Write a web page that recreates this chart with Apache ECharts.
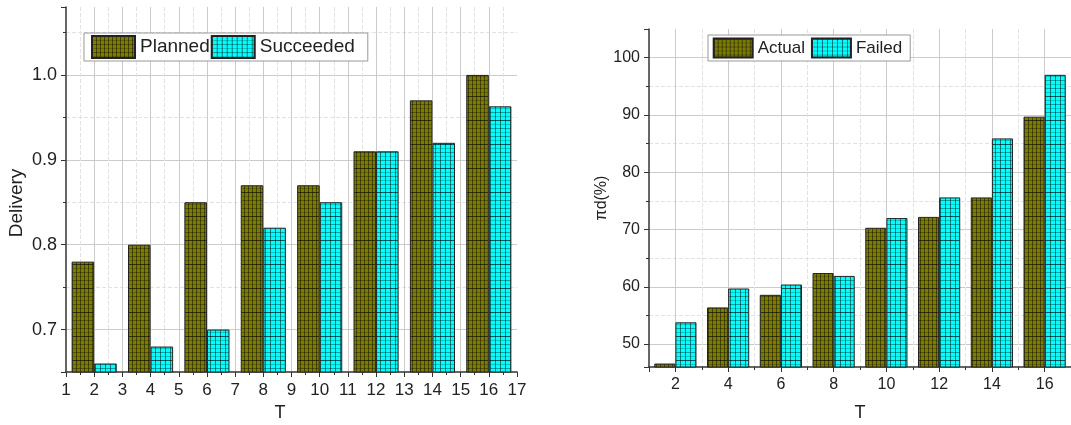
<!DOCTYPE html>
<html>
<head>
<meta charset="utf-8">
<script src="https://cdn.jsdelivr.net/npm/echarts@6/dist/echarts.min.js"></script>
<style>
  html, body { margin: 0; padding: 0; background: #fff; }
  #chart { width: 1071px; height: 425px; }
</style>
</head>
<body>
<div id="chart"></div>
<script>
// Time steps shared by both panels
const T = [2, 4, 6, 8, 10, 12, 14, 16];

// Left panel: delivery ratio
const planned   = [0.78, 0.80, 0.85, 0.87, 0.87, 0.91, 0.97, 1.00];
const succeeded = [0.66, 0.68, 0.70, 0.82, 0.85, 0.91, 0.92, 0.963];

// Right panel: pi_d (%)
const actual = [46.6, 56.4, 58.6, 62.4, 70.3, 72.2, 75.6, 89.7];
const failed = [53.8, 59.7, 60.4, 61.9, 72.0, 75.6, 85.9, 97.0];

const FONT = '"Liberation Sans", Arial, sans-serif';
const INK = '#222';
const AXIS = '#333';

// Grid-hatch fill used inside the bars
function hatch(base, w, h, vAlpha, hMajor, hMid, hMinor) {
  const c = document.createElement('canvas');
  c.width = w; c.height = h;
  const g = c.getContext('2d');
  g.fillStyle = base; g.fillRect(0, 0, w, h);
  g.fillStyle = 'rgba(0,0,0,' + vAlpha + ')';
  g.fillRect(0, 0, 1, h);
  g.fillStyle = 'rgba(0,0,0,' + hMajor + ')';
  g.fillRect(0, 0, w, 1);
  g.fillStyle = 'rgba(0,0,0,' + hMid + ')';
  g.fillRect(0, h / 3, w, 1); g.fillRect(0, 2 * h / 3, w, 1);
  g.fillStyle = 'rgba(0,0,0,' + hMinor + ')';
  g.fillRect(0, h / 6, w, 1); g.fillRect(0, h / 2, w, 1); g.fillRect(0, 5 * h / 6, w, 1);
  return { image: c, repeat: 'repeat' };
}
const oliveFill = hatch('#7c7c00', 4, 24, 0.45, 0.6, 0.32, 0.2);
const cyanFill  = hatch('#00ffff', 5, 24, 0.5, 0.65, 0.35, 0.2);

function pairs(xs, ys) { return xs.map((x, i) => [x, ys[i]]); }

function xAxisBase(grid, extra) {
  return Object.assign({
    gridIndex: grid, type: 'value', min: 1, max: 17,
    axisLine: { show: true, onZero: false, lineStyle: { color: AXIS, width: 1.5 } },
    axisTick: { show: true, length: 5, lineStyle: { color: AXIS } },
    minorTick: { show: true, splitNumber: 2, length: 3, lineStyle: { color: AXIS } },
    splitLine: { show: true, showMinLine: false, showMaxLine: false, lineStyle: { color: '#cbcbcb' } },
    minorSplitLine: { show: true, lineStyle: { color: '#e2e2e2', type: 'dashed' } },
    nameLocation: 'middle'
  }, extra);
}
function yAxisBase(grid, extra) {
  return Object.assign({
    gridIndex: grid, type: 'value',
    axisLine: { show: true, lineStyle: { color: AXIS, width: 1.5 } },
    axisTick: { show: true, length: 5, lineStyle: { color: AXIS } },
    minorTick: { show: true, splitNumber: 2, length: 3, lineStyle: { color: AXIS } },
    splitLine: { show: true, showMinLine: false, showMaxLine: false, lineStyle: { color: '#cbcbcb' } },
    minorSplitLine: { show: true, lineStyle: { color: '#e2e2e2', type: 'dashed' } },
    nameLocation: 'middle'
  }, extra);
}

const barCommon = {
  type: 'bar', barWidth: '40%', barGap: '0%',
  emphasis: { disabled: true }
};

const option = {
  animation: false,
  backgroundColor: '#fff',
  textStyle: { fontFamily: FONT },
  grid: [
    { left: 66, top: 7, width: 451, height: 365, outerBoundsMode: 'none', containLabel: false },
    { left: 649, top: 29, width: 422, height: 338, outerBoundsMode: 'none', containLabel: false }
  ],
  legend: [
    {
      data: ['Planned', 'Succeeded'], left: 84, top: 33, orient: 'horizontal',
      itemWidth: 43, itemHeight: 22, itemGap: 1, padding: [2, 13, 2, 7],
      backgroundColor: '#fff', borderColor: '#999', borderWidth: 1,
      textStyle: { fontSize: 19, color: INK, fontFamily: FONT },
      icon: 'rect', selectedMode: false
    },
    {
      data: ['Actual', 'Failed'], left: 708, top: 35, orient: 'horizontal',
      itemWidth: 39, itemHeight: 19, itemGap: 6, padding: [2.5, 8, 2.5, 4.7],
      backgroundColor: '#fff', borderColor: '#999', borderWidth: 1,
      textStyle: { fontSize: 17, color: INK, fontFamily: FONT },
      icon: 'rect', selectedMode: false
    }
  ],
  xAxis: [
    xAxisBase(0, {
      interval: 1,
      axisLabel: { fontSize: 17, color: INK, margin: 10, showMinLabel: true, showMaxLabel: true, fontFamily: FONT },
      name: 'T', nameGap: 32,
      nameTextStyle: { fontSize: 18, color: INK, fontFamily: FONT, padding: [0, 23, 0, 0] }
    }),
    xAxisBase(1, {
      splitNumber: 8,
      axisLabel: { fontSize: 16, color: INK, margin: 10, showMinLabel: false, showMaxLabel: false, fontFamily: FONT },
      name: 'T', nameGap: 37,
      nameTextStyle: { fontSize: 18, color: INK, fontFamily: FONT }
    })
  ],
  yAxis: [
    yAxisBase(0, {
      min: 0.65, max: 1.08, splitNumber: 4,
      axisLabel: {
        fontSize: 18, color: INK, margin: 9, showMinLabel: false, showMaxLabel: false, fontFamily: FONT,
        formatter: v => v.toFixed(1)
      },
      name: 'Delivery', nameGap: 40,
      nameTextStyle: { fontSize: 19, color: INK, fontFamily: FONT, padding: [0, 27, 0, 0] }
    }),
    yAxisBase(1, {
      min: 46, max: 105, splitNumber: 5,
      axisLabel: { fontSize: 16, color: INK, margin: 9, showMinLabel: false, showMaxLabel: false, fontFamily: FONT },
      name: 'πd(%)', nameGap: 34,
      nameTextStyle: { fontSize: 16, color: INK, fontFamily: FONT }
    })
  ],
  series: [
    Object.assign({}, barCommon, {
      name: 'Planned', xAxisIndex: 0, yAxisIndex: 0, data: pairs(T, planned),
      itemStyle: { color: oliveFill, borderColor: '#222', borderWidth: 1 }
    }),
    Object.assign({}, barCommon, {
      name: 'Succeeded', xAxisIndex: 0, yAxisIndex: 0, data: pairs(T, succeeded),
      itemStyle: { color: cyanFill, borderColor: '#222', borderWidth: 1 }
    }),
    Object.assign({}, barCommon, {
      name: 'Actual', xAxisIndex: 1, yAxisIndex: 1, data: pairs(T, actual),
      itemStyle: { color: oliveFill, borderColor: '#222', borderWidth: 1 }
    }),
    Object.assign({}, barCommon, {
      name: 'Failed', xAxisIndex: 1, yAxisIndex: 1, data: pairs(T, failed),
      itemStyle: { color: cyanFill, borderColor: '#222', borderWidth: 1 }
    })
  ]
};

const chart = echarts.init(document.getElementById('chart'), null, { renderer: 'canvas', width: 1071, height: 425 });
chart.setOption(option);
</script>
</body>
</html>
